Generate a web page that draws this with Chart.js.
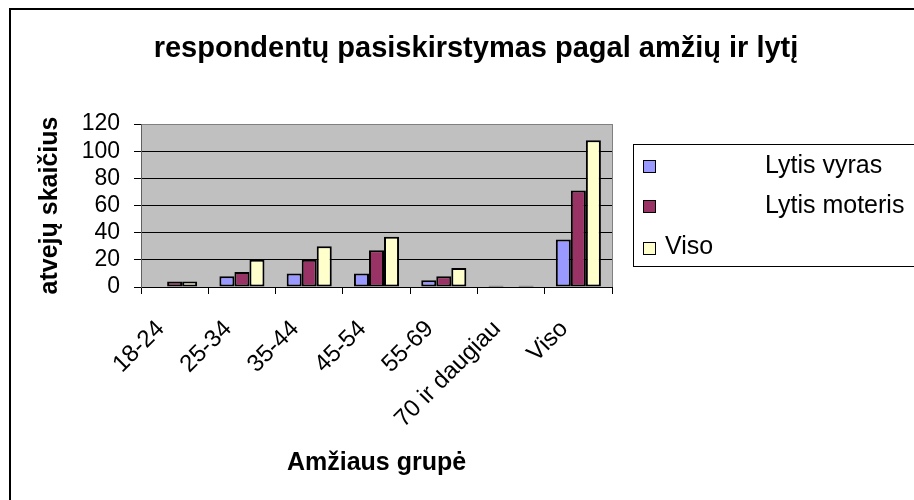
<!DOCTYPE html>
<html>
<head>
<meta charset="utf-8">
<script src="https://cdn.jsdelivr.net/npm/chart.js@4/dist/chart.umd.min.js"></script>
<style>
  html, body { margin: 0; padding: 0; background: #fff; overflow: hidden; }
  #wrap { position: relative; width: 914px; height: 500px; overflow: hidden; }
  #frame { position: absolute; left: 9px; top: 8px; width: 1000px; height: 1000px; border: 2px solid #000; box-sizing: border-box; }
  canvas { position: absolute; left: 0; top: 0; }
</style>
</head>
<body>
<div id="wrap">
  <div id="frame"></div>
  <canvas id="c" width="914" height="500"></canvas>
</div>
<script>
const chartTitle = 'respondentų pasiskirstymas pagal amžių ir lytį';
const yTitle = 'atvejų skaičius';
const xTitle = 'Amžiaus grupė';
const categories = ['18-24', '25-34', '35-44', '45-54', '55-69', '70 ir daugiau', 'Viso'];
const seriesNames = ['Lytis vyras', 'Lytis moteris', 'Viso'];
const vyras = [0, 8, 10, 10, 5, 1, 35];
const moteris = [4, 11, 20, 27, 8, 0, 71];
const viso = [4, 20, 30, 37, 14, 1, 108];
const yTicks = [0, 20, 40, 60, 80, 100, 120];

const FONT = '"Liberation Sans", Arial, Helvetica, sans-serif';
const colors = ['#9999FF', '#993366', '#FFFFCC'];

const decor = {
  id: 'decor',
  beforeDraw(chart) {
    const { ctx, chartArea: a } = chart;
    ctx.save();
    ctx.fillStyle = '#C0C0C0';
    ctx.fillRect(a.left, a.top, a.right - a.left, a.bottom - a.top);
    ctx.restore();
  },
  beforeDatasetsDraw(chart) {
    const { ctx, chartArea: a } = chart;
    ctx.save();
    ctx.strokeStyle = '#808080';
    ctx.lineWidth = 1;
    ctx.beginPath();
    ctx.moveTo(Math.round(a.right) + 0.5, a.top);
    ctx.lineTo(Math.round(a.right) + 0.5, a.bottom);
    ctx.stroke();
    ctx.restore();
  },
  afterDraw(chart) {
    const { ctx } = chart;
    ctx.save();
    // title
    ctx.fillStyle = '#000';
    ctx.font = 'bold 29px ' + FONT;
    ctx.textAlign = 'center';
    ctx.textBaseline = 'alphabetic';
    ctx.fillText(chartTitle, 476, 57);
    // legend
    ctx.strokeStyle = '#000';
    ctx.lineWidth = 1;
    ctx.strokeRect(633.5, 144.5, 400, 122);
    const rows = [
      { sy: 160, tx: 765, ty: 173 },
      { sy: 200, tx: 765, ty: 213 },
      { sy: 242, tx: 665, ty: 254 }
    ];
    ctx.font = '25px ' + FONT;
    ctx.textAlign = 'left';
    chart.data.datasets.forEach((ds, i) => {
      const r = rows[i];
      ctx.fillStyle = ds.backgroundColor;
      ctx.fillRect(643, r.sy, 13, 13);
      ctx.strokeStyle = '#000';
      ctx.strokeRect(643.5, r.sy + 0.5, 12, 12);
      ctx.fillStyle = '#000';
      ctx.fillText(ds.label, r.tx, r.ty);
    });
    ctx.restore();
  }
};

new Chart(document.getElementById('c'), {
  type: 'bar',
  data: {
    labels: categories,
    datasets: [
      { label: seriesNames[0], data: vyras, backgroundColor: colors[0] },
      { label: seriesNames[1], data: moteris, backgroundColor: colors[1] },
      { label: seriesNames[2], data: viso, backgroundColor: colors[2] }
    ].map(d => Object.assign(d, {
      borderColor: '#000', borderWidth: 2, borderSkipped: false,
      categoryPercentage: 0.67, barPercentage: 1.0
    }))
  },
  plugins: [decor],
  options: {
    responsive: false,
    animation: false,
    devicePixelRatio: 1,
    layout: { padding: { top: 124, right: 302, bottom: 0, left: 0 } },
    plugins: {
      legend: { display: false },
      title: { display: false },
      tooltip: { enabled: false }
    },
    scales: {
      x: {
        afterFit: s => { s.height = 213; },
        grid: { drawOnChartArea: false, drawTicks: true, tickLength: 7, tickColor: '#000', offset: true },
        border: { color: '#000', width: 1 },
        ticks: {
          color: '#000', font: { family: FONT, size: 24 },
          minRotation: 45, maxRotation: 45, autoSkip: false, padding: 21, labelOffset: -14
        },
        title: {
          display: true, text: xTitle, color: '#000',
          font: { family: FONT, size: 25, weight: 'bold' },
          padding: { top: 0, bottom: 22 }
        }
      },
      y: {
        min: 0, max: 120,
        afterFit: s => { s.width = 141; },
        afterBuildTicks: s => { s.ticks = yTicks.map(v => ({ value: v })); },
        grid: {
          color: c => (c.tick && c.tick.value === 120) ? '#808080' : '#000',
          lineWidth: 1, drawTicks: true, tickLength: 7, tickColor: '#000'
        },
        border: { color: '#606060', width: 1 },
        ticks: { color: '#000', font: { family: FONT, size: 23 }, padding: 14, autoSkip: false },
        title: {
          display: true, text: yTitle, color: '#000',
          font: { family: FONT, size: 25, weight: 'bold' },
          padding: { top: 35, bottom: 0 }
        }
      }
    }
  }
});
</script>
</body>
</html>
